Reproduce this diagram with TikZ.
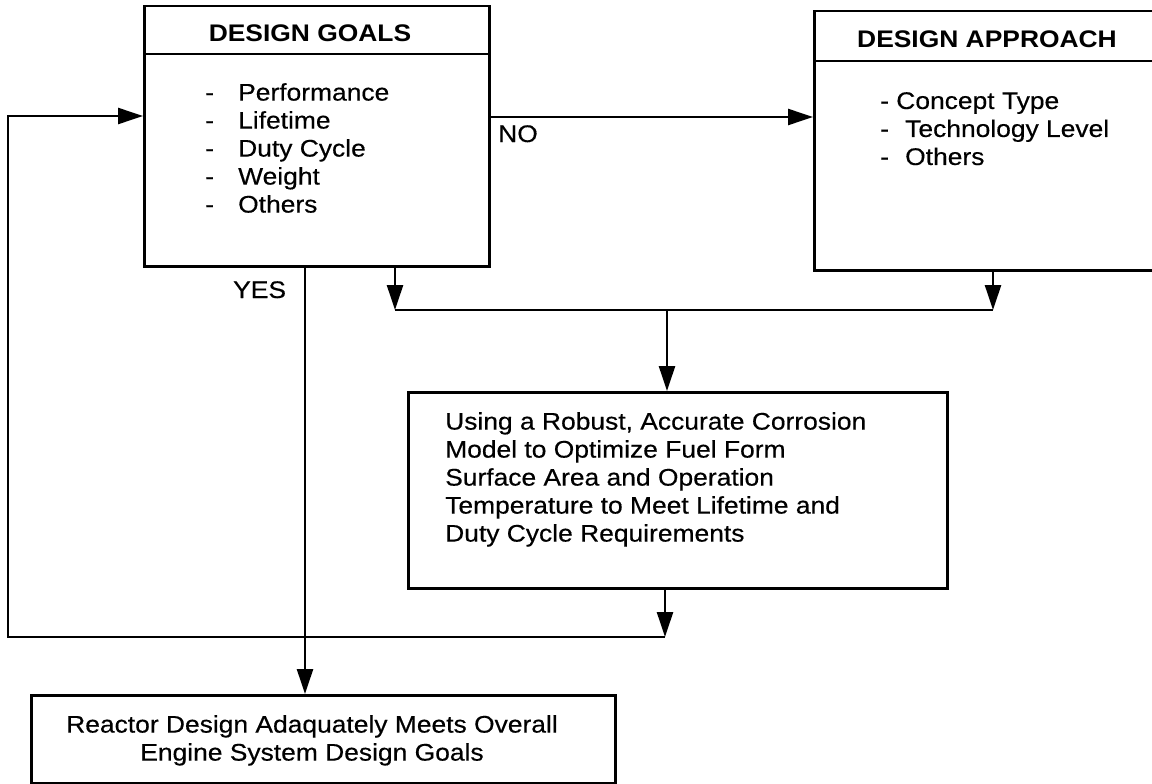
\documentclass[tikz,border=0pt]{standalone}
\usepackage{fontspec}
\setmainfont{Liberation Sans}[FakeStretch=1.1, UprightFeatures={FakeBold=0.4}]
\usetikzlibrary{arrows.meta}
\begin{document}
\begin{tikzpicture}[x=1pt,y=-1pt,
  box/.style={draw, line width=2.5pt, rectangle, inner sep=0pt, anchor=north west},
  conn/.style={line width=2.5pt},
  arr/.style={conn, -{Triangle[length=25pt,width=16pt]}},
  txt/.style={font=\fontsize{24}{28}\selectfont, inner sep=0pt},
  hdr/.style={font=\bfseries\fontsize{24}{28}\selectfont, inner sep=0pt, anchor=base}]
\useasboundingbox[fill=white] (0,0) rectangle (1152,784);

% boxes
\node[box, minimum width=345pt, minimum height=260pt] (goals) at (143,5) {};
\node[box, minimum width=348pt, minimum height=259pt] (appr) at (813,10) {};
\node[box, minimum width=539pt, minimum height=196pt] (corr) at (407,391) {};
\node[box, minimum width=584pt, minimum height=88pt] (react) at (30,694) {};

% header dividers
\coordinate (gdl) at (143,54); \coordinate (gdr) at (488,54);
\coordinate (adl) at (813,61); \coordinate (adr) at (1161,61);
\draw[conn] (gdl) -- (gdr);
\draw[conn] (adl) -- (adr);

% texts
\node[hdr] (gh) at (310,42) {DESIGN GOALS};
\node[hdr] (ah) at (987,48) {DESIGN APPROACH};
\node[txt, anchor=north west, align=left] (gl) at (205,83)
  {\makebox[33pt][l]{-}Performance\\
   \makebox[33pt][l]{-}Lifetime\\
   \makebox[33pt][l]{-}Duty Cycle\\
   \makebox[33pt][l]{-}Weight\\
   \makebox[33pt][l]{-}Others};
\node[txt, anchor=north west, align=left] (al) at (880,92)
  {- Concept Type\\
   \makebox[25pt][l]{-}Technology Level\\
   \makebox[25pt][l]{-}Others};
\node[txt, anchor=north west, align=left] (ct) at (445,412)
  {Using a Robust, Accurate Corrosion\\
   Model to Optimize Fuel Form\\
   Surface Area and Operation\\
   Temperature to Meet Lifetime and\\
   Duty Cycle Requirements};
\node[txt, anchor=north, align=center] (rt) at (312,715)
  {Reactor Design Adaquately Meets Overall\\
   Engine System Design Goals};
\node[txt, anchor=base west] (yes) at (233,298) {YES};
\node[txt, anchor=base west] (no) at (498,142) {NO};

% connectors
\coordinate (n1) at (0,117);
\draw[arr] (goals.east |- n1) -- (appr.west |- n1);

\coordinate (m1) at (395,310);
\coordinate (m2) at (993,310);
\coordinate (m3) at (667,310);
\draw[arr] (goals.south -| m1) -- (m1);
\draw[arr] (appr.south -| m2) -- (m2);
\draw[conn] (m1) -- (m2);
\draw[arr] (m3) -- (corr.north -| m3);

\coordinate (l1) at (665,637);
\coordinate (l2) at (8,637);
\coordinate (l3) at (8,116);
\draw[arr] (corr.south -| l1) -- (l1);
\draw[arr] (l1) -- (l2) -- (l3) -- (goals.west |- l3);

\coordinate (y1) at (305,0);
\draw[arr] (goals.south -| y1) -- (react.north -| y1);
\end{tikzpicture}
\end{document}
